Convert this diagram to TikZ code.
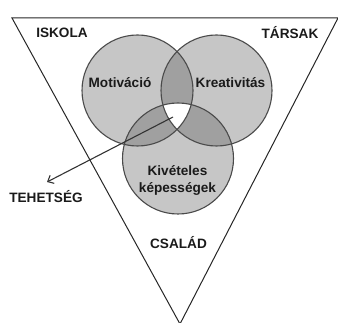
\documentclass[tikz,border=0pt]{standalone}
\usepackage{fontspec}
\setmainfont{Liberation Sans}
\usetikzlibrary{arrows.meta}
\definecolor{lightg}{HTML}{C6C6C6}
\definecolor{darkg}{HTML}{A0A0A0}
\definecolor{edgeg}{HTML}{4A4A4A}
\definecolor{txt}{HTML}{1A1A1A}
\tikzset{
  lbl/.style={font=\bfseries\fontsize{13.6}{15.5}\selectfont, text=txt, inner sep=0pt},
  ring/.style={draw=edgeg, line width=1.1pt},
  tri/.style={draw=black!85, line width=1pt},
  pointer/.style={draw=black!80, line width=1.1pt, -{Straight Barb[length=5pt,width=9pt]}}
}
\begin{document}
\begin{tikzpicture}[x=1pt,y=-1pt]
\useasboundingbox (0,0) rectangle (338,323);
\clip (0,0) rectangle (338,323);
\def\R{55.5pt}
\coordinate (cM) at (137.5,90.5);
\coordinate (cK) at (216.5,90.5);
\coordinate (cV) at (178,158.5);
% triangle
\coordinate (tl) at (12,18);
\coordinate (tr) at (338,18);
\coordinate (ap) at (180,324);
\draw[tri] (tl) -- (tr) -- (ap) -- cycle;
% circle fills
\fill[lightg] (cM) circle (\R);
\fill[lightg] (cK) circle (\R);
\fill[lightg] (cV) circle (\R);
\begin{scope}
  \clip (cM) circle (\R);
  \fill[darkg] (cK) circle (\R);
  \fill[darkg] (cV) circle (\R);
\end{scope}
\begin{scope}
  \clip (cK) circle (\R);
  \fill[darkg] (cV) circle (\R);
\end{scope}
\begin{scope}
  \clip (cM) circle (\R);
  \clip (cK) circle (\R);
  \fill[white] (cV) circle (\R);
\end{scope}
\draw[ring] (cM) circle (\R);
\draw[ring] (cK) circle (\R);
\draw[ring] (cV) circle (\R);
% labels
\node[lbl] (iskola) at (62,33) {ISKOLA};
\node[lbl] (tarsak) at (290,33) {TÁRSAK};
\node[lbl] (motiv) at (120,83) {Motiváció};
\node[lbl] (kreat) at (230.5,83) {Kreativitás};
\node[lbl, align=center] (kivet) at (177.5,180.5) {Kivételes\\[1pt]képességek};
\node[lbl] (tehet) at (46,197) {TEHETSÉG};
\node[lbl] (csalad) at (178.5,243) {CSALÁD};
% arrow
\coordinate (astart) at (173,117);
\coordinate (atip) at (47,182);
\draw[pointer] (astart) -- (atip);
\end{tikzpicture}
\end{document}
